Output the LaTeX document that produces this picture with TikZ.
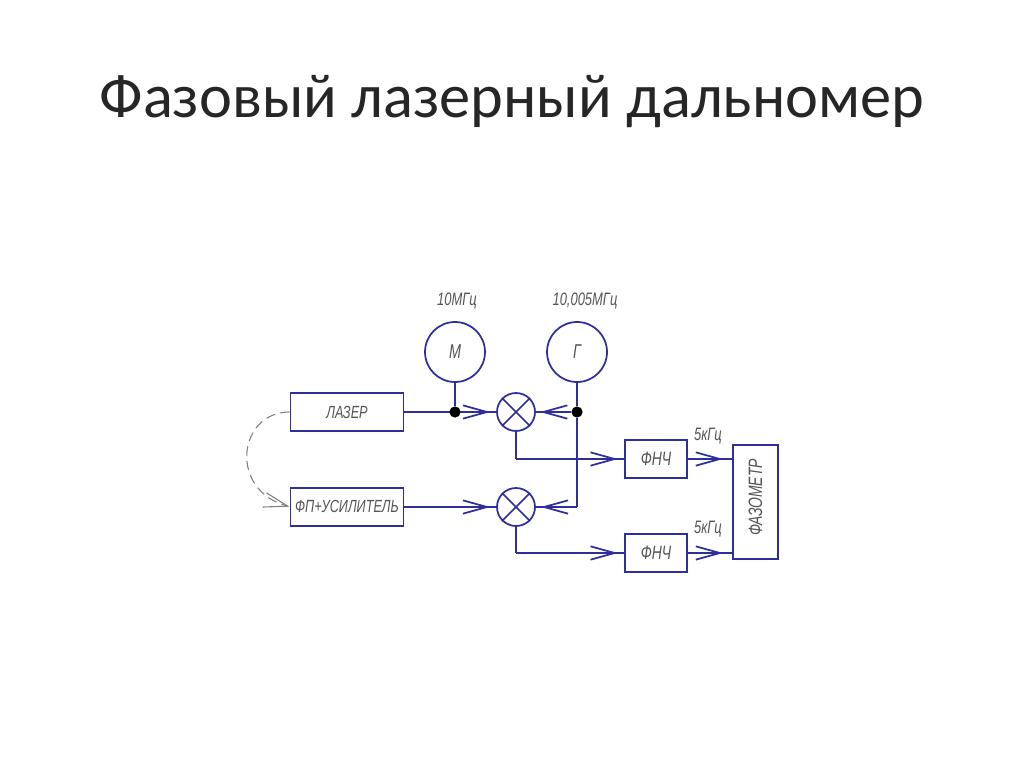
\documentclass[tikz,border=0pt]{standalone}
\usepackage{fontspec}
\setmainfont{Carlito}
\newfontfamily\gost[FakeStretch=0.72]{Liberation Sans Italic}
\usetikzlibrary{arrows.meta,decorations.markings}
\pgfdeclarelayer{wires}
\pgfsetlayers{wires,main}
\definecolor{lineblue}{HTML}{2E2E9E}
\definecolor{labelgrey}{HTML}{555555}
\definecolor{dashgrey}{HTML}{808080}
\tikzset{
  x=0.75pt,y=-0.75pt,
  unit/.style={draw=lineblue,line width=1.3pt,minimum width=84.9pt,minimum height=28.5pt,inner sep=0pt,text=labelgrey,font=\gost\fontsize{13.2pt}{13.2pt}\selectfont},
  fnch/.style={unit,minimum width=46.3pt,font=\gost\fontsize{14.5pt}{14.5pt}\selectfont},
  gen/.style={draw=lineblue,line width=1.3pt,circle,minimum size=45pt,inner sep=0pt,text=labelgrey,font=\gost\fontsize{15pt}{15pt}\selectfont},
  mixer/.style={draw=lineblue,line width=1.3pt,circle,minimum size=28.5pt,inner sep=0pt},
  junction/.style={fill=black,circle,minimum size=8.4pt,inner sep=0pt},
  freq/.style={text=labelgrey,font=\gost\fontsize{13.5pt}{13.5pt}\selectfont,inner sep=0pt},
  conn/.style={draw=lineblue,line width=1.3pt},
  barb/.style={postaction={decorate,decoration={markings,mark=at position #1 with {\arrow[lineblue,line width=1.3pt]{Straight Barb[length=18pt,width=10pt]}}}}},
}
\begin{document}
\begin{tikzpicture}
\useasboundingbox (0,0) rectangle (1024,767);
\begin{pgfonlayer}{wires}
\fill[white] (0,0) rectangle (1024,767);
\end{pgfonlayer}
\node[inner sep=0pt,text=black!85,font=\fontsize{46.8pt}{46.8pt}\selectfont] (title) at (512,101.5) {Фазовый лазерный дальномер};

\node[unit] (laser) at (347,412) {ЛАЗЕР};
\node[unit] (fp) at (347,506.7) {ФП+УСИЛИТЕЛЬ};
\node[gen] (m) at (455,352) {М};
\node[gen] (g) at (577,352) {Г};
\node[mixer] (mix1) at (516,412) {};
\node[mixer] (mix2) at (516,507) {};
\node[fnch] (f1) at (656,459) {ФНЧ};
\node[fnch] (f2) at (656,553) {ФНЧ};
\node[draw=lineblue,line width=1.3pt,minimum width=85.5pt,minimum height=33.75pt,inner sep=0pt,text=labelgrey,font=\gost\fontsize{14.5pt}{14.5pt}\selectfont,rotate=90] (ph) at (755.5,502) {\hspace*{7pt}ФАЗОМЕТР};
\node[junction] (j1) at (455,412) {};
\node[junction] (j2) at (577,412) {};
\node[freq] (l1) at (457,301) {10МГц};
\node[freq] (l2) at (585,301) {10,005МГц};
\node[freq] (l3) at (708,436) {5кГц};
\node[freq] (l4) at (708,529) {5кГц};

\foreach \a in {mix1,mix2}{
  \draw[conn] (\a.45) -- (\a.225);
  \draw[conn] (\a.135) -- (\a.315);
}
\coordinate (c1) at (516,459);
\coordinate (c2) at (516,553);
\coordinate (c3) at (577,507);
\coordinate (p1) at (733,459);
\coordinate (p2) at (733,553);

\begin{pgfonlayer}{wires}
\draw[conn,barb=0.935] (laser.east |- mix1) -- (mix1.west);
\draw[conn,barb=0.935] (fp.east |- mix2) -- (mix2.west);
\draw[conn] (m) -- (j1);
\draw[conn] (g) -- (j2);
\draw[conn,barb=0.88] (j2) -- (mix1.east);
\draw[conn] (j2) -- (c3);
\draw[conn,barb=0.88] (c3) -- (mix2.east);
\draw[conn] (mix1) -- (c1);
\draw[conn,barb=0.94] (c1) -- (f1.west);
\draw[conn] (mix2) -- (c2);
\draw[conn,barb=0.94] (c2) -- (f2.west);
\draw[conn,barb=0.78] (f1) -- (p1);
\draw[conn,barb=0.78] (f2) -- (p2);
\draw[dashgrey,line width=0.8pt,dash pattern=on 7pt off 4pt,-{Straight Barb[length=18pt,width=11pt]}] (laser.west) .. controls (238,412) and (228,490) .. (fp.west);
\end{pgfonlayer}
\end{tikzpicture}
\end{document}
